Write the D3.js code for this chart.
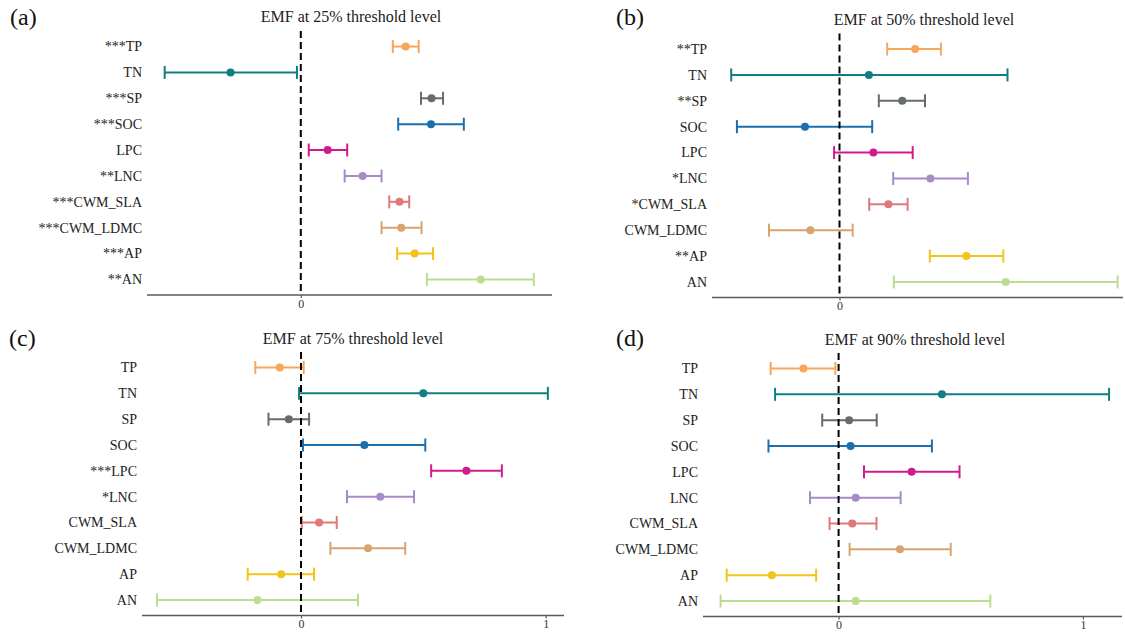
<!DOCTYPE html>
<html><head><meta charset="utf-8">
<script src="https://cdn.jsdelivr.net/npm/d3@7"></script>
<style>html,body{margin:0;padding:0;background:#fff;} svg{display:block;}</style>
</head><body>
<svg id="chart" width="1125" height="632"></svg>
<script>
// ---- data ----
const categories = ["TP","TN","SP","SOC","LPC","LNC","CWM_SLA","CWM_LDMC","AP","AN"];
const colors = ["#F9A65A","#127E82","#646C6C","#1A6FAF","#D01C8B","#A68BC8","#E0787A","#D8A46E","#F2C417","#BCDD8F"];
const titles = ["EMF at 25% threshold level","EMF at 50% threshold level","EMF at 75% threshold level","EMF at 90% threshold level"];
const tags = ["(a)","(b)","(c)","(d)"];

const sigA  = ["***","","***","***","","**","***","***","***","**"];
const meanA = [0.409,-0.274,0.510,0.508,0.105,0.241,0.385,0.392,0.444,0.702];
const lowA  = [0.359,-0.531,0.469,0.380,0.031,0.171,0.345,0.315,0.376,0.492];
const highA = [0.460,-0.015,0.555,0.636,0.181,0.315,0.423,0.471,0.516,0.909];
const ticksA = [0];

const sigB  = ["**","","**","","","*","*","","**",""];
const meanB = [0.252,0.098,0.209,-0.115,0.113,0.303,0.163,-0.097,0.423,0.554];
const lowB  = [0.159,-0.361,0.131,-0.342,-0.018,0.179,0.099,-0.235,0.301,0.181];
const highB = [0.338,0.560,0.285,0.109,0.244,0.428,0.227,0.044,0.546,0.927];
const ticksB = [0];

const sigC  = ["","","","","***","*","","","",""];
const meanC = [-0.087,0.500,-0.050,0.259,0.676,0.324,0.074,0.274,-0.081,-0.178];
const lowC  = [-0.187,-0.008,-0.133,0.008,0.532,0.188,0.003,0.120,-0.218,-0.589];
const highC = [0.011,1.009,0.033,0.508,0.821,0.462,0.146,0.426,0.053,0.233];
const ticksC = [0,1];

const sigD  = ["","","","","","","","","",""];
const meanD = [-0.144,0.423,0.043,0.049,0.299,0.070,0.056,0.251,-0.273,0.070];
const lowD  = [-0.278,-0.260,-0.067,-0.287,0.104,-0.117,-0.037,0.045,-0.458,-0.483];
const highD = [-0.013,1.107,0.156,0.382,0.495,0.254,0.155,0.459,-0.092,0.621];
const ticksD = [0,1];

// ---- layout ----
const FONT = "'Liberation Serif','Times New Roman',serif";
const panels = [
  {sig:sigA, mean:meanA, low:lowA, high:highA, ticks:ticksA, domain:[-0.6,0.98],
   xr:[147,552], yr:[31,295], tagX:10, tagY:25, titleX:351, titleY:22},
  {sig:sigB, mean:meanB, low:lowB, high:highB, ticks:ticksB, domain:[-0.425,0.945],
   xr:[712,1123], yr:[33.5,297.5], tagX:616, tagY:25, titleX:924, titleY:25},
  {sig:sigC, mean:meanC, low:lowC, high:highC, ticks:ticksC, domain:[-0.65,1.075],
   xr:[142,564], yr:[352,615.5], tagX:9, tagY:346, titleX:353, titleY:343.5},
  {sig:sigD, mean:meanD, low:lowD, high:highD, ticks:ticksD, domain:[-0.555,1.16],
   xr:[703,1122], yr:[353,616.5], tagX:616, tagY:346, titleX:915, titleY:344.5}
];

const svg = d3.select("#chart");

panels.forEach((p, pi) => {
  const g = svg.append("g");
  const x = d3.scaleLinear().domain(p.domain).range(p.xr);
  const y = d3.scalePoint().domain(categories).range(p.yr).padding(0.6);

  // tag and title
  g.append("text").attr("x", p.tagX).attr("y", p.tagY)
    .attr("font-family", FONT).attr("font-size", 24).attr("fill", "#111").text(tags[pi]);
  g.append("text").attr("x", p.titleX).attr("y", p.titleY).attr("text-anchor", "middle")
    .attr("font-family", FONT).attr("font-size", 16).attr("fill", "#222").text(titles[pi]);

  // category labels
  g.selectAll("text.lab").data(categories).join("text")
    .attr("class","lab")
    .attr("x", p.xr[0] - 5).attr("y", d => y(d))
    .attr("dy", "0.35em").attr("text-anchor", "end")
    .attr("font-family", FONT).attr("font-size", 14).attr("fill", "#222")
    .text((d, i) => p.sig[i] + d);

  // x axis
  const axis = d3.axisBottom(x).tickValues(p.ticks).tickFormat(d3.format("d")).tickSize(3).tickPadding(1);
  const ax = g.append("g").attr("transform", `translate(0,${p.yr[1]})`).call(axis);
  ax.select(".domain").attr("stroke", "#5a5a5a").attr("stroke-width", 1.4)
    .attr("d", `M${p.xr[0]},0H${p.xr[1]}`);
  ax.selectAll(".tick line").attr("stroke", "#5a5a5a").attr("stroke-width", 1.2);
  ax.selectAll(".tick text").attr("font-family", FONT).attr("font-size", 12).attr("fill", "#333");

  // error bars
  const bars = g.selectAll("g.bar").data(categories).join("g").attr("class","bar");
  bars.append("line")
    .attr("x1", (d,i) => x(p.low[i])).attr("x2", (d,i) => x(p.high[i]))
    .attr("y1", d => y(d)).attr("y2", d => y(d))
    .attr("stroke", (d,i) => colors[i]).attr("stroke-width", 2);
  bars.append("line")
    .attr("x1", (d,i) => x(p.low[i])).attr("x2", (d,i) => x(p.low[i]))
    .attr("y1", d => y(d) - 6.5).attr("y2", d => y(d) + 6.5)
    .attr("stroke", (d,i) => colors[i]).attr("stroke-width", 2);
  bars.append("line")
    .attr("x1", (d,i) => x(p.high[i])).attr("x2", (d,i) => x(p.high[i]))
    .attr("y1", d => y(d) - 6.5).attr("y2", d => y(d) + 6.5)
    .attr("stroke", (d,i) => colors[i]).attr("stroke-width", 2);
  bars.append("circle")
    .attr("cx", (d,i) => x(p.mean[i])).attr("cy", d => y(d)).attr("r", 4)
    .attr("fill", (d,i) => colors[i]);

  // zero dashed line
  g.append("line")
    .attr("x1", x(0)).attr("x2", x(0)).attr("y1", p.yr[0]).attr("y2", p.yr[1])
    .attr("stroke", "#000").attr("stroke-width", 2).attr("stroke-dasharray", "7,4");
});
</script>
</body></html>
